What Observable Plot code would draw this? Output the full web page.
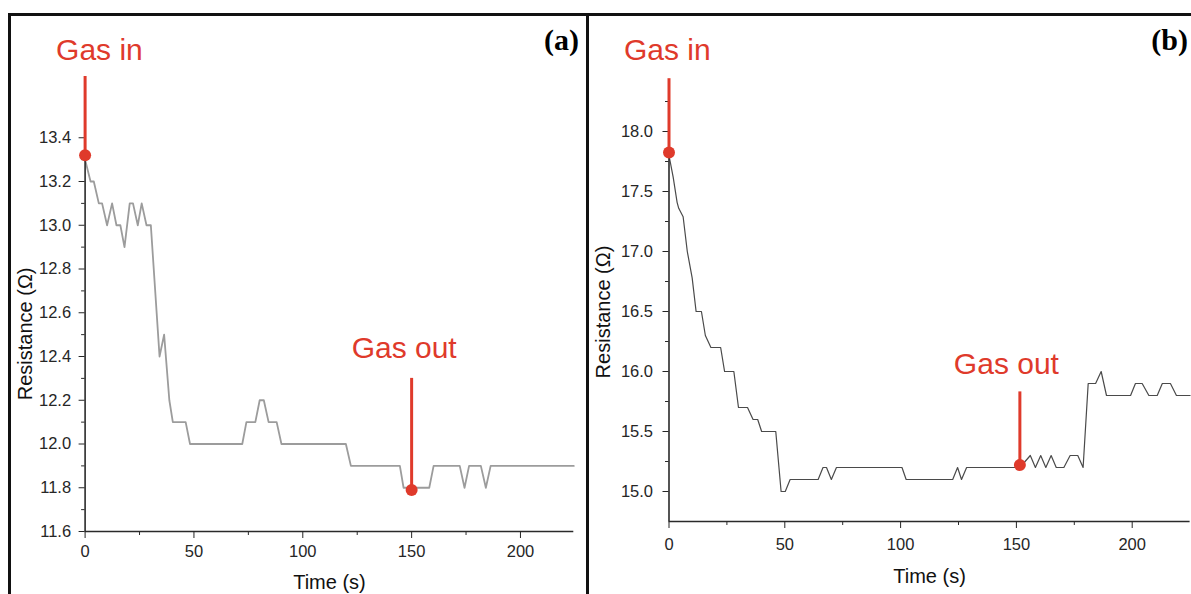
<!DOCTYPE html>
<html><head><meta charset="utf-8">
<script src="https://cdn.jsdelivr.net/npm/d3@7"></script>
<script src="https://cdn.jsdelivr.net/npm/@observablehq/plot@0.6"></script>
<style>
body{margin:0;background:#fff;}
#wrap{position:relative;width:1191px;height:594px;overflow:hidden;background:#fff;font-family:"Liberation Sans",Arial,sans-serif;}
.panel{position:absolute;top:0;}
.border{position:absolute;background:#111;}
.tag{position:absolute;font-family:"Liberation Serif","Times New Roman",serif;font-weight:bold;font-size:30px;line-height:30px;color:#000;}
</style></head><body><div id="wrap"></div>
<script>
// ---- Data ----
const panelTags = ["(a)", "(b)"];
const xLabel = "Time (s)";
const yLabel = "Resistance (\u03A9)";

// Panel (a)
const timeA = [0,2.5,4,6.3,7.8,10.1,12.4,14.4,16.2,18.1,20.5,22,24.2,26,28.2,30.2,34.2,36.3,38.7,40.3,46.2,48.2,72.2,74.1,78.2,80.2,82.1,84.3,88,90.2,119.8,122.1,144.6,146.3,158.1,160.1,172.1,174.3,176.4,181.8,184.1,186.3,224.5];
const resA  = [13.3,13.2,13.2,13.1,13.1,13.0,13.1,13.0,13.0,12.9,13.1,13.1,13.0,13.1,13.0,13.0,12.4,12.5,12.2,12.1,12.1,12.0,12.0,12.1,12.1,12.2,12.2,12.1,12.1,12.0,12.0,11.9,11.9,11.8,11.8,11.9,11.9,11.8,11.9,11.9,11.8,11.9,11.9];
const yMajorA = [11.6,11.8,12.0,12.2,12.4,12.6,12.8,13.0,13.2,13.4];
const yMinorA = [11.7,11.9,12.1,12.3,12.5,12.7,12.9,13.1,13.3];
const eventTimesA = [0, 150];
const eventValuesA = [13.32, 11.79];
const eventTopsA = [13.68, 12.30];

// Panel (b)
const timeB = [0,1.8,3.5,4.2,6.1,7.9,10,11.7,14,15.7,18.1,22.3,24,28,30,33.9,36.3,38.3,40,46.1,48.4,50.2,52.3,64.4,66.5,68,70.1,72.3,100.6,102.4,122.5,124.6,126.3,128.5,151.5,156,158.2,160.5,162.7,165,167.2,170.5,173.2,176.5,178.8,181,184.2,186.6,188.9,199.3,201.4,204.3,207.2,210.8,213,216.5,219.1,225];
const resB  = [17.8,17.62,17.41,17.36,17.29,17.0,16.78,16.5,16.5,16.3,16.2,16.2,16.0,16.0,15.7,15.7,15.6,15.6,15.5,15.5,15.0,15.0,15.1,15.1,15.2,15.2,15.1,15.2,15.2,15.1,15.1,15.2,15.1,15.2,15.2,15.3,15.2,15.3,15.2,15.3,15.2,15.2,15.3,15.3,15.2,15.9,15.9,16.0,15.8,15.8,15.9,15.9,15.8,15.8,15.9,15.9,15.8,15.8];
const yMajorB = [15.0,15.5,16.0,16.5,17.0,17.5,18.0];
const yMinorB = [15.25,15.75,16.25,16.75,17.25,17.75,18.25];
const eventTimesB = [0, 151.5];
const eventValuesB = [17.825, 15.22];
const eventTopsB = [18.44, 15.83];

const eventLabels = ["Gas in", "Gas out"];
const xMajor = [0,50,100,150,200];
const xMinor = [25,75,125,175];

// ---- Drawing ----
const RED = "#df3a2b";
const wrap = document.getElementById("wrap");

function panel(cfg) {
  const series = cfg.t.map((t, i) => ({t, v: cfg.v[i]}));
  const events = cfg.et.map((t, i) => ({t, v: cfg.ev[i], top: cfg.etop[i], label: eventLabels[i]}));
  const marks = [
    Plot.line(series, {x: "t", y: "v", stroke: cfg.lineColor, strokeWidth: cfg.lineWidth}),
    Plot.ruleX([0], {stroke: "#2a2a2a", strokeWidth: 1.6}),
    Plot.ruleY([cfg.ydom[0]], {stroke: "#2a2a2a", strokeWidth: 1.6}),
    Plot.axisY(cfg.yMajor, {anchor: "left", tickSize: 6, tickPadding: cfg.yPad, fontSize: 16.5, color: "#262626", tickFormat: d => d.toFixed(1), label: null}),
    Plot.axisY(cfg.yMinor, {anchor: "left", tickSize: 3.5, color: "#2a2a2a", tickFormat: () => "", label: null}),
    Plot.axisX(xMajor, {anchor: "bottom", tickSize: 7, tickPadding: cfg.xPad, fontSize: 16.5, color: "#262626", tickFormat: d => String(d), label: null}),
    Plot.axisX(xMinor, {anchor: "bottom", tickSize: 4, color: "#2a2a2a", tickFormat: () => "", label: null}),
    Plot.text([yLabel], {text: d => d, frameAnchor: "left", rotate: -90, textAnchor: "middle", lineAnchor: "middle", dx: cfg.yLabDx, dy: cfg.yLabDy, fontSize: 20, fill: "#111"}),
    Plot.text([xLabel], {text: d => d, frameAnchor: "bottom", textAnchor: "middle", lineAnchor: "middle", dy: cfg.xLabDy, fontSize: 20, fill: "#111"}),
    Plot.ruleX(events, {x: "t", y1: "v", y2: "top", stroke: RED, strokeWidth: 3}),
    Plot.dot(events, {x: "t", y: "v", r: 6, fill: RED, stroke: null})
  ];
  events.forEach((e, i) => {
    marks.push(Plot.text([e], {x: "t", y: "v", text: "label", textAnchor: "start", lineAnchor: "middle", dx: cfg.lab[i][0], dy: cfg.lab[i][1], fontSize: 30, fill: RED}));
  });
  const svg = Plot.plot({
    width: cfg.width, height: 594,
    marginLeft: cfg.ml, marginRight: cfg.mr, marginTop: cfg.mt, marginBottom: cfg.mb,
    x: {domain: cfg.xdom, axis: null},
    y: {domain: cfg.ydom, axis: null},
    style: {fontFamily: "'Liberation Sans', Arial, sans-serif", background: "transparent", overflow: "visible"},
    marks
  });
  const div = document.createElement("div");
  div.className = "panel";
  div.style.left = cfg.left + "px";
  div.appendChild(svg);
  wrap.appendChild(div);
}

panel({
  t: timeA, v: resA, et: eventTimesA, ev: eventValuesA, etop: eventTopsA,
  yMajor: yMajorA, yMinor: yMinorA,
  left: 0, width: 588, ml: 84.6, mr: 14.7, mt: 119.75, mb: 63,
  xdom: [0, 224.5], ydom: [11.6, 13.48],
  lineColor: "#9c9c9c", lineWidth: 1.8,
  yPad: 8, xPad: 7, yLabDx: -60, yLabDy: 8, xLabDy: 51,
  lab: [[-29, -105], [-60, -142]]
});

panel({
  t: timeB, v: resB, et: eventTimesB, ev: eventValuesB, etop: eventTopsB,
  yMajor: yMajorB, yMinor: yMinorB,
  left: 589, width: 602, ml: 79.5, mr: 1.4, mt: 83, mb: 73,
  xdom: [0, 225], ydom: [14.75, 18.4],
  lineColor: "#4a4a4a", lineWidth: 1.2,
  yPad: 10, xPad: 10, yLabDx: -65, yLabDy: 9.5, xLabDy: 55,
  lab: [[-45, -102], [-66, -101]]
});

// panel frames
function bar(l, t, w, h) {
  const d = document.createElement("div");
  d.className = "border";
  Object.assign(d.style, {left: l + "px", top: t + "px", width: w + "px", height: h + "px"});
  wrap.appendChild(d);
}
bar(8, 13, 1183, 2.5);
bar(8, 13, 3, 581);
bar(586, 13, 3, 581);

// panel tags
[[579, panelTags[0]], [1188, panelTags[1]]].forEach(([right, txt]) => {
  const s = document.createElement("div");
  s.className = "tag";
  s.textContent = txt;
  s.style.right = (1191 - right) + "px";
  s.style.top = "25px";
  wrap.appendChild(s);
});
</script></body></html>
